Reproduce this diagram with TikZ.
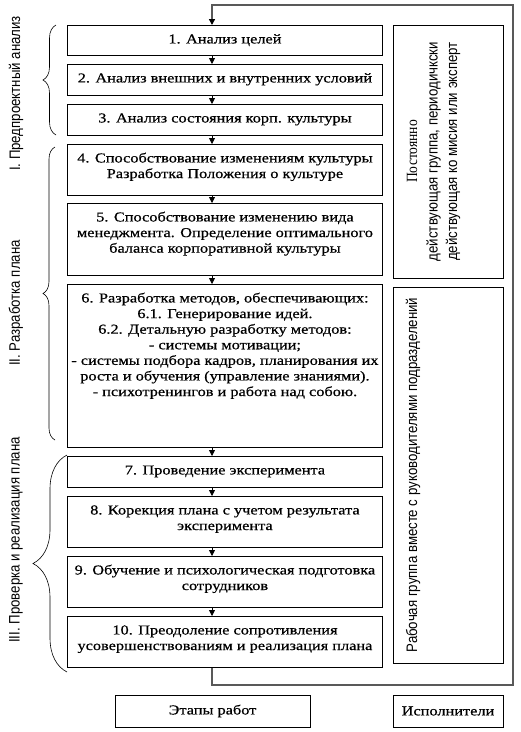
\documentclass[tikz,border=0pt]{standalone}
\usepackage{fontspec}
\usetikzlibrary{arrows.meta,decorations.pathreplacing}
\newfontfamily\stagefont[FakeStretch=1.2,FakeBold=0.6]{Liberation Serif}
\newfontfamily\sidefont[FakeStretch=0.87]{Liberation Sans}
\newfontfamily\sideserif[FakeStretch=0.87]{Liberation Serif}
\newcommand{\stagetext}[2]{\parbox[c][#1][t]{315pt}{\centering\rule{0pt}{18pt}#2}}
\newcommand{\sidetext}[2]{\parbox[c][110pt][t]{#1}{\centering\rule{0pt}{24pt}#2}}

\begin{document}
\begin{tikzpicture}[x=1pt, y=-1pt,
  stage/.style={draw, line width=0.9pt, inner sep=0pt, anchor=north west,
    font=\stagefont\fontsize{13.6}{15.6}\selectfont},
  legend/.style={draw, line width=0.9pt, inner sep=0pt, minimum height=32pt,
    font=\stagefont\fontsize{13.6}{15.6}\selectfont},
  side/.style={draw, line width=0.9pt, inner sep=0pt, rotate=90,
    font=\sidefont\fontsize{15.2}{19.5}\selectfont},
  phase/.style={rotate=90, inner sep=0pt, font=\sidefont\fontsize{15.2}{18}\selectfont},
  flow/.style={line width=0.8pt, -{Triangle[length=6pt,width=6pt]}},
  frame/.style={line width=1.3pt, black!65, -{Triangle[length=6pt,width=6pt,color=black]}},
  curly/.style={decorate, decoration={brace, amplitude=#1}, line width=0.6pt}]
   \useasboundingbox (0,0) rectangle (521,732);
   \coordinate (axis) at (212,0);
   \coordinate (frtop) at (513,5);
   \coordinate (frbot) at (513,685);
   % stages of work
   \node[stage] (b1) at (67,25) {\stagetext{30pt}{1. Анализ целей}};
   \node[stage] (b2) at (67,64) {\stagetext{31pt}{2. Анализ внешних и внутренних условий}};
   \node[stage] (b3) at (67,104) {\stagetext{31pt}{3. Анализ состояния корп. культуры}};
   \node[stage] (b4) at (67,144) {\stagetext{51pt}{4. Способствование изменениям культуры\\Разработка Положения о культуре}};
   \node[stage] (b5) at (67,203) {\stagetext{72pt}{5. Способствование изменению вида\\менеджмента. Определение оптимального\\баланса корпоративной культуры}};
   \node[stage] (b6) at (67,284) {\stagetext{163pt}{6. Разработка методов, обеспечивающих:\\6.1. Генерирование идей.\\6.2. Детальную разработку методов:\\- системы мотивации;\\- системы подбора кадров, планирования их\\роста и обучения (управление знаниями).\\- психотренингов и работа над собою.}};
   \node[stage] (b7) at (67,456) {\stagetext{31pt}{7. Проведение эксперимента}};
   \node[stage] (b8) at (67,496) {\stagetext{51pt}{8. Корекция плана с учетом результата\\эксперимента}};
   \node[stage] (b9) at (67,556) {\stagetext{51pt}{9. Обучение и психологическая подготовка\\сотрудников}};
   \node[stage] (b10) at (67,616) {\stagetext{51pt}{10. Преодоление сопротивления\\усовершенствованиям и реализация плана}};
   \foreach \a/\b in {b1/b2,b2/b3,b3/b4,b4/b5,b5/b6,b6/b7,b7/b8,b8/b9,b9/b10}
     \draw[flow] (\a.south -| axis) -- (\b.north -| axis);
   \draw[frame] (b10.south -| axis) |- (frbot) -- (frtop) -| (b1.north -| axis);
   % executors
   \node[side] (crew) at (448,151.5) {\sidetext{253pt}{{\sideserif\fontsize{15.6}{19.5}\selectfont Постоянно}\\[1pt]действующая группа, периодичкски\\действующая ко мисия или эксперт}};
   \node[side] (team) at (448,475) {\sidetext{376pt}{Рабочая группа вместе с руководителями подразделений}};
   % phases
   \node[phase] (ph1) at (16,93.5) {I. Предпроектный анализ};
   \node[phase] (ph2) at (16,303) {II. Разработка плана};
   \node[phase] (ph3) at (16,540) {III. Проверка и реализация плана};
   \draw[curly=13] (56,135) -- (56,25);
   \draw[curly=12] (55,440) -- (55,147);
   \draw[curly=34] (67,672) -- (67,455);
   \node[legend, minimum width=195pt] (stages) at (212.5,711) {Этапы работ};
   \node[legend, minimum width=110pt] (doers) at (448,711) {Исполнители};
\end{tikzpicture}
\end{document}
